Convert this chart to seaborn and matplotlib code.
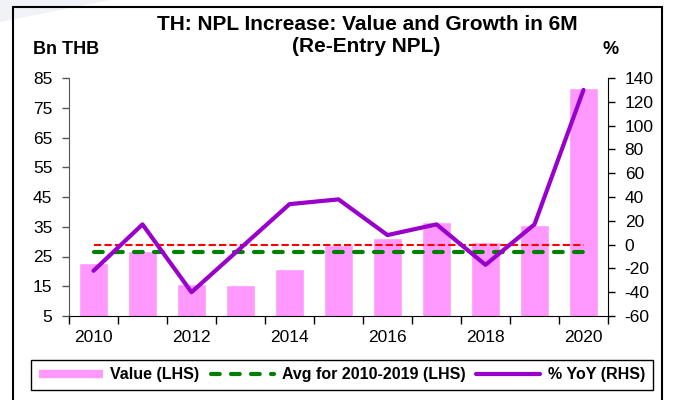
import numpy as np
import pandas as pd
import seaborn as sns
import matplotlib.pyplot as plt
from matplotlib.patches import Rectangle, Polygon
from matplotlib.lines import Line2D

# Datos
years = [2010, 2011, 2012, 2013, 2014, 2015, 2016, 2017, 2018, 2019, 2020]
value_bn = [22.7, 27.0, 15.8, 15.4, 20.8, 28.8, 31.1, 36.5, 29.9, 35.5, 81.5]
yoy_pct = [-22, 17, -40, -3, 34, 38, 8, 17, -17, 17, 130]
avg_2010_2019 = [26.4] * len(years)
year_labels = ['2010', '2012', '2014', '2016', '2018', '2020']

pink = '#FF99FF'
purple = '#9900CC'
green = '#008000'

sns.set_style('white')
plt.rcParams['font.family'] = ['Liberation Sans', 'DejaVu Sans']
plt.rcParams['axes.unicode_minus'] = False
plt.rcParams['text.color'] = 'black'
plt.rcParams['xtick.color'] = 'black'
plt.rcParams['ytick.color'] = 'black'

df = pd.DataFrame({'year': years, 'value': value_bn, 'yoy': yoy_pct, 'avg': avg_2010_2019})

fig = plt.figure(figsize=(6.73, 4), dpi=100)
W, H = 673, 400
ax = fig.add_axes([69 / W, 84 / H, 539 / W, 238 / H])

# barras (eje izquierdo)
sns.barplot(data=df, x='year', y='value', native_scale=True, width=0.6,
            color=pink, saturation=1, ax=ax, zorder=1)
# promedio 2010-2019
sns.lineplot(data=df, x='year', y='avg', ax=ax, color=green, lw=3,
             linestyle=(0, (2.1, 2.7)), dash_capstyle='round', zorder=3)

ax.set_xlim(2009.5, 2020.5)
ax.set_ylim(5, 85)
ax.set_yticks(range(5, 86, 10))
ax.set_xticks(years[::2])
ax.set_xticklabels(year_labels)
ax.set_xticks(np.arange(2009.5, 2021, 1), minor=True)
ax.tick_params(axis='x', which='major', length=0, pad=10, labelsize=12.5, labelcolor='black')
ax.tick_params(axis='x', which='minor', length=6, width=1, color='black', direction='out', bottom=True)
ax.tick_params(axis='y', length=5, width=1, color='#555555', direction='out', left=True, pad=7,
               labelsize=12.5, labelcolor='black')
ax.set_xlabel('')
ax.set_ylabel('')
ax.spines['top'].set_visible(False)
ax.spines['right'].set_visible(False)
ax.spines['left'].set_color('#555555')
ax.spines['bottom'].set_color('black')
ax.patch.set_alpha(0)

# eje derecho: % YoY
ax2 = ax.twinx()
ax2.hlines(0, years[0], years[-1], colors='red', linestyles=(0, (3.5, 1.5)), lw=1.5, zorder=2)
sns.lineplot(data=df, x='year', y='yoy', ax=ax2, color=purple, lw=3, zorder=4)
ax2.set_ylim(-60, 140)
ax2.set_yticks(range(-60, 141, 20))
ax2.tick_params(axis='y', length=5, width=1, color='black', direction='out', right=True, pad=7,
                labelsize=12.5, labelcolor='black')
ax2.set_ylabel('')
for s in ['top', 'left', 'bottom']:
    ax2.spines[s].set_visible(False)
ax2.spines['right'].set_color('black')

# textos
fig.text(367 / W, 1 - 25 / H, 'TH: NPL Increase: Value and Growth in 6M',
         ha='center', va='center', fontsize=15, fontweight='bold', color='black')
fig.text(366 / W, 1 - 46 / H, '(Re-Entry NPL)',
         ha='center', va='center', fontsize=15, fontweight='bold', color='black')
fig.text(33 / W, 1 - 50 / H, 'Bn THB', ha='left', va='center', fontsize=13, fontweight='bold', color='black')
fig.text(611 / W, 1 - 49 / H, '%', ha='center', va='center', fontsize=13, fontweight='bold', color='black')

# leyenda
handles = [
    Line2D([], [], color=pink, lw=6, solid_capstyle='butt'),
    Line2D([], [], color=green, lw=3, linestyle=(0, (2.1, 2.7)), dash_capstyle='round'),
    Line2D([], [], color=purple, lw=3),
]
labels = ['Value (LHS)', 'Avg for 2010-2019 (LHS)', '% YoY (RHS)']
leg = fig.legend(handles, labels, loc='center', bbox_to_anchor=(342 / W, 25 / H), ncol=3,
                 frameon=True, fancybox=False, edgecolor='black', framealpha=1,
                 prop={'weight': 'bold', 'size': 11.5}, handlelength=4.0,
                 handletextpad=0.45, columnspacing=0.7, borderpad=0.5)
leg.get_frame().set_linewidth(1)

# marco exterior y marca de agua
fig.add_artist(Polygon([(0, 1), (110 / W, 1), (0, 1 - 22 / H)], closed=True,
                       transform=fig.transFigure, facecolor='#F1F1F8', edgecolor='none', zorder=0))
fig.add_artist(Rectangle((13 / W, -0.05), (662 - 13) / W, 1.05 - 7 / H, fill=False,
                         edgecolor='black', lw=1.5, transform=fig.transFigure, clip_on=False))

fig.savefig('out.png', dpi=100)
